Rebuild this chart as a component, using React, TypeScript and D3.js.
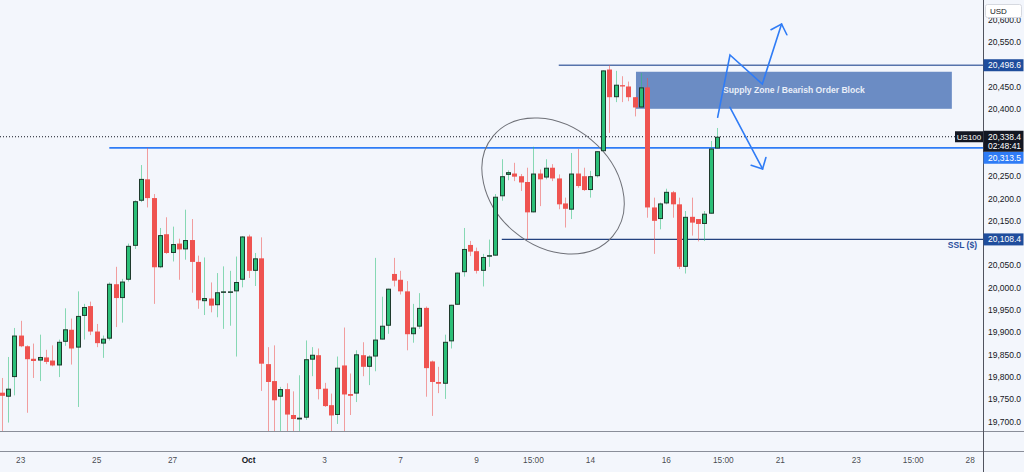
import React from 'react';
import * as d3 from 'd3';

// 4h candles, US100, Sep 23 -> Oct 17 (index 0 = first visible bar)
const opens = [
  19765, 19756, 19800, 19893, 19869, 19841, 19837, 19844, 19837, 19826,
  19879, 19906, 19866, 19937, 19959, 19902, 19875, 19886, 20008, 19977,
  20018, 20094, 20195, 20243, 20201, 20046, 20120, 20078, 20099, 20086,
  20107, 20058, 19970, 19976, 19961, 19990, 19991, 19992, 20018, 20115,
  20038, 20066, 19829, 19791, 19756, 19773, 19715, 19705, 19709, 19839,
  19849, 19774, 19737, 19715, 19826, 19762, 19763, 19849, 19823, 19846,
  19884, 19915, 20031, 20018, 19992, 19896, 19913, 19955, 19835, 19789,
  19785, 19880, 19962, 20035, 20096, 20082, 20038, 20070, 20072, 20205,
  20253, 20256, 20250, 20237, 20169, 20256, 20247, 20269, 20245, 20189,
  20175, 20256, 20250, 20219, 20250, 20306, 20489, 20427, 20454, 20451,
  20427, 20404, 20449, 20180, 20154, 20189, 20214, 20187, 20047, 20159,
  20154, 20143, 20166, 20312,
];
const highs = [
  19798, 19845, 19910, 19926, 19871, 19875, 19895, 19861, 19871, 19884,
  19954, 19931, 19992, 19964, 19969, 19919, 19893, 20012, 20047, 20020,
  20099, 20196, 20275, 20313.5, 20210, 20134, 20158, 20137, 20110, 20175,
  20154, 20072, 20068, 20012, 20033, 20048, 20038, 20070, 20116, 20119,
  20078, 20113, 19867, 19871, 19778, 19786, 19768, 19804, 19882, 19867,
  19864, 19787, 19763, 19846, 19911, 19808, 19860, 19878, 19849, 20067,
  19980, 19998, 20067, 20038, 20015, 19964, 19988, 19958, 19837, 19823,
  19895, 19962, 20034, 20134, 20105, 20090, 20076, 20108, 20210, 20288,
  20263, 20280, 20255, 20269, 20316, 20265, 20288, 20277, 20254, 20202,
  20302, 20311, 20269, 20262, 20306, 20487, 20498.6, 20486, 20474, 20462,
  20427, 20481, 20470, 20202, 20191, 20222, 20217, 20202, 20172, 20202,
  20154, 20172, 20329, 20358,
];
const lows = [
  19670, 19698, 19759, 19867, 19720, 19798, 19791, 19829, 19824, 19800,
  19870, 19828, 19733, 19884, 19894, 19867, 19843, 19882, 19912, 19922,
  20014, 20087, 20192, 20180, 19964, 20044, 20076, 20059, 20018, 20063,
  19989, 19953, 19939, 19945, 19934, 19908, 19915, 19846, 20001, 20022,
  20004, 19769, 19670, 19670, 19670, 19670, 19670, 19670, 19704, 19802,
  19750, 19733, 19670, 19695, 19670, 19715, 19744, 19802, 19782, 19813,
  19884, 19897, 20003, 19985, 19860, 19877, 19908, 19756, 19713, 19764,
  19751, 19864, 19962, 20025, 20071, 20032, 20003, 20047, 20072, 20195,
  20241, 20239, 20217, 20108.4, 20169, 20183, 20243, 20239, 20176, 20135,
  20154, 20224, 20217, 20202, 20247, 20306, 20347, 20416, 20416, 20418,
  20384, 20404, 20157, 20076, 20131, 20187, 20157, 20042, 20032, 20117,
  20104, 20105, 20166, 20312,
];
const closes = [
  19758, 19774, 19893, 19869, 19840, 19836, 19845, 19834, 19826, 19879,
  19907, 19864, 19937, 19957, 19902, 19876, 19886, 20009, 19977, 20014,
  20094, 20194, 20244, 20201, 20046, 20118, 20078, 20098, 20086, 20107,
  20058, 19972, 19977, 19960, 19990, 19992, 19992, 20013, 20115, 20038,
  20066, 19830, 19789, 19748, 19773, 19716, 19706, 19709, 19840, 19850,
  19773, 19735, 19714, 19821, 19761, 19758, 19851, 19823, 19846, 19884,
  19915, 19998, 20016, 19992, 19896, 19911, 19955, 19820, 19789, 19785,
  19879, 19962, 20034, 20087, 20081, 20038, 20069, 20073, 20204, 20250,
  20259, 20249, 20236, 20169, 20256, 20243, 20269, 20245, 20187, 20177,
  20256, 20228, 20219, 20250, 20306, 20487, 20427, 20455, 20451, 20427,
  20404, 20449, 20180, 20150, 20189, 20215, 20187, 20047, 20159, 20146,
  20143, 20166, 20312, 20338.4,
];

const priceTicks = d3.range(19700, 20601, 50);
const timeTickIdx = [3, 15, 27, 39, 51, 63, 75, 84, 93, 105, 114, 123, 135, 144, 153];
const timeTickLabels = ['23', '25', '27', 'Oct', '3', '7', '9', '15:00', '14', '16', '15:00', '21', '23', '15:00', '28'];

// horizontal levels drawn on the chart
const levelPrices = [20498.6, 20313.5, 20108.4];
const levelStartIdx = [88, 17, 79];
const levelLineColors = ['#5673ab', '#2f7cf6', '#23427f'];
const levelBoxColors = ['#1f4d9c', '#2f7cf6', '#1f4d9c'];

const lastPrice = 20338.4;
const countdown = '02:48:41';

// supply zone box
const zoneIdx = [100.2, 150.1];
const zonePrice = [20401, 20484];
const zoneLabel = 'Supply Zone / Bearish Order Block';

// hand drawn arrows
const upArrowIdx = [113.1, 115.05, 120.16, 123.2];
const upArrowPrice = [20382, 20521.6, 20456.6, 20591];
const downArrowIdx = [115.05, 120.2];
const downArrowPrice = [20404.4, 20266.2];

// consolidation ellipse
const ellipseIdx = 87.1;
const ellipsePrice = 20228;

const PLOT_R = 983;
const PLOT_B = 431;
const TIME_T = 451;
const BG = '#f3f6fc';
const FONT = '"Liberation Sans", Arial, sans-serif';
const GREEN = '#2bbf78';
const RED = '#ef5350';

const x = d3.scaleLinear().domain([0, 153]).range([1.7, 970.2]);
const y = d3.scaleLinear().domain([19700, 20550]).range([421.7, 42.3]);

const fmt = d3.format(',.1f');

function arrowHead(pts: [number, number][]) {
  const [p1, p2] = pts.slice(-2);
  const ang = Math.atan2(p1[1] - p2[1], p1[0] - p2[0]);
  const len = 12;
  const spread = (44 * Math.PI) / 180;
  const a = [p2[0] + len * Math.cos(ang + spread), p2[1] + len * Math.sin(ang + spread)];
  const b = [p2[0] + len * Math.cos(ang - spread), p2[1] + len * Math.sin(ang - spread)];
  return `M${a[0]},${a[1]}L${p2[0]},${p2[1]}L${b[0]},${b[1]}`;
}

const App: React.FC = () => {
  const line = d3.line<[number, number]>();
  const upPts: [number, number][] = upArrowIdx.map((d, i) => [x(d), y(upArrowPrice[i])]);
  const downPts: [number, number][] = downArrowIdx.map((d, i) => [x(d), y(downArrowPrice[i])]);
  const lastY = y(lastPrice);

  // label boxes on the price axis (centre y, height) - ticks under them are hidden
  const boxY = levelPrices.map((p, i) => (i === 1 ? lastY + 21 : y(p)));
  const covered = (ty: number) =>
    boxY.some((b) => Math.abs(ty - b) < 9) || (ty > lastY - 9 && ty < lastY + 19);
  const visibleTicks = priceTicks.filter((p) => !covered(y(p)));

  return (
    <div style={{ position: 'fixed', left: 0, top: 0, width: 1024, height: 472, background: BG }}>
      <svg width={1024} height={472} style={{ display: 'block', fontFamily: FONT }}>
        <defs>
          <clipPath id="plot">
            <rect x={0} y={0} width={PLOT_R} height={PLOT_B} />
          </clipPath>
        </defs>
        <rect x={0} y={0} width={1024} height={472} fill={BG} />

        <g clipPath="url(#plot)">
          {/* supply zone */}
          <rect
            x={x(zoneIdx[0])}
            y={y(zonePrice[1])}
            width={x(zoneIdx[1]) - x(zoneIdx[0])}
            height={y(zonePrice[0]) - y(zonePrice[1])}
            fill="#6b8cc4"
          />
          <text
            x={(x(zoneIdx[0]) + x(zoneIdx[1])) / 2}
            y={(y(zonePrice[0]) + y(zonePrice[1])) / 2 + 3}
            textAnchor="middle"
            fontSize={8.6}
            fontWeight={600}
            fill="#e9eef8"
          >
            {zoneLabel}
          </text>

          {/* levels */}
          {levelPrices.map((p, i) => (
            <line
              key={p}
              x1={x(levelStartIdx[i])}
              x2={PLOT_R}
              y1={y(p)}
              y2={y(p)}
              stroke={levelLineColors[i]}
              strokeWidth={i === 1 ? 1.8 : 1.4}
            />
          ))}
          <text x={977} y={248} textAnchor="end" fontSize={8.5} fontWeight={600} fill="#2b4f9e">
            SSL ($)
          </text>

          {/* last price dotted line */}
          <line x1={0} x2={PLOT_R} y1={lastY} y2={lastY} stroke="#131722" strokeWidth={1} strokeDasharray="1 2" />

          {/* ellipse */}
          <ellipse
            cx={0}
            cy={0}
            rx={78}
            ry={60}
            fill="none"
            stroke="#6f7178"
            strokeWidth={1}
            transform={`translate(${x(ellipseIdx)},${y(ellipsePrice)}) rotate(40)`}
          />

          {/* candles */}
          {opens.map((o, i) => {
            const c = closes[i];
            const up = c >= o;
            const cx = Math.round(x(i));
            const top = y(Math.max(o, c));
            const bot = y(Math.min(o, c));
            const h = Math.max(1, bot - top);
            return (
              <g key={i}>
                <line
                  x1={cx + 0.5}
                  x2={cx + 0.5}
                  y1={y(highs[i])}
                  y2={y(lows[i])}
                  stroke={up ? GREEN : RED}
                  strokeOpacity={0.55}
                  strokeWidth={1}
                />
                {up ? (
                  <rect x={cx - 1.5} y={top + 0.5} width={4} height={Math.max(0.5, h - 1)} fill={GREEN} stroke="#1e3a2c" strokeWidth={1} />
                ) : (
                  <rect x={cx - 2} y={top} width={5} height={h} fill={RED} />
                )}
              </g>
            );
          })}

          {/* arrows */}
          <g fill="none" stroke="#2f7cf6" strokeWidth={1.6} strokeLinejoin="miter" strokeLinecap="round">
            <path d={line(upPts) || ''} />
            <path d={arrowHead(upPts)} />
            <path d={line(downPts) || ''} />
            <path d={arrowHead(downPts)} />
          </g>
        </g>

        {/* frame lines */}
        <line x1={0} x2={1024} y1={PLOT_B + 0.5} y2={PLOT_B + 0.5} stroke="#8a8e99" strokeWidth={1} />
        <line x1={0} x2={1024} y1={TIME_T + 0.5} y2={TIME_T + 0.5} stroke="#8a8e99" strokeWidth={1} />
        <line x1={PLOT_R + 0.5} x2={PLOT_R + 0.5} y1={0} y2={472} stroke="#50535e" strokeWidth={1} />

        {/* price axis */}
        {visibleTicks.map((p) => (
          <text key={p} x={988} y={y(p) + 3} fontSize={8.5} fill="#131722">
            {fmt(p)}
          </text>
        ))}

        {/* level labels */}
        {levelPrices.map((p, i) => (
          <g key={p}>
            <rect x={PLOT_R + 0.5} y={boxY[i] - 6} width={40} height={12} fill={levelBoxColors[i]} />
            <text x={988} y={boxY[i] + 3} fontSize={8.5} fill="#ffffff">
              {fmt(p)}
            </text>
          </g>
        ))}

        {/* last price label */}
        <rect x={PLOT_R + 0.5} y={lastY - 6} width={40} height={21} fill="#131722" />
        <text x={988} y={lastY + 3} fontSize={8.5} fill="#ffffff">
          {fmt(lastPrice)}
        </text>
        <text x={988} y={lastY + 12.5} fontSize={8.5} fill="#ffffff">
          {countdown}
        </text>
        <rect x={955} y={lastY - 5.5} width={28} height={11} fill="#131722" />
        <text x={969} y={lastY + 3} fontSize={8} textAnchor="middle" fill="#ffffff">
          US100
        </text>

        {/* currency box */}
        <rect x={985.5} y={4.5} width={36} height={13} rx={2} fill="#ffffff" stroke="#d6d9e0" />
        <text x={990} y={14} fontSize={8} fill="#131722">
          USD
        </text>

        {/* time axis */}
        {timeTickIdx.map((d, i) => (
          <text
            key={i}
            x={x(d)}
            y={462.5}
            textAnchor="middle"
            fontSize={8.3}
            fontWeight={timeTickLabels[i] === 'Oct' ? 700 : 400}
            fill="#131722"
            fillOpacity={timeTickLabels[i] === 'Oct' ? 1 : 0.8}
          >
            {timeTickLabels[i]}
          </text>
        ))}
      </svg>
    </div>
  );
};

export default App;
